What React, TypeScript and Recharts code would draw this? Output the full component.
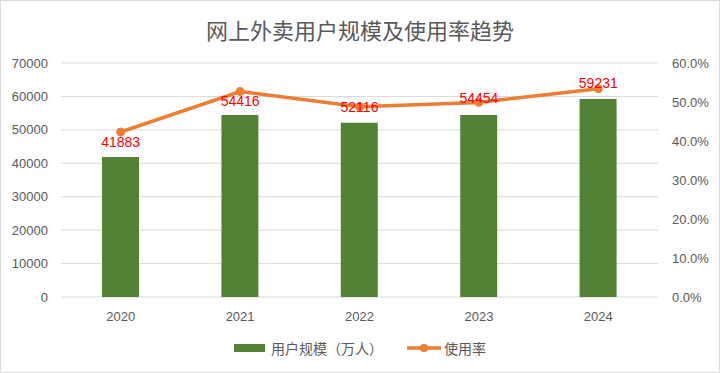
import React from 'react';
import { ComposedChart, Bar, Line, XAxis, YAxis, CartesianGrid } from 'recharts';

const years = ['2020', '2021', '2022', '2023', '2024'];
const users = [41883, 54416, 52116, 54454, 59231];
const usageRate = [0.423, 0.527, 0.488, 0.499, 0.534];
const leftTicks = [0, 10000, 20000, 30000, 40000, 50000, 60000, 70000];
const rightTicks = [0, 0.1, 0.2, 0.3, 0.4, 0.5, 0.6];
const labelOffsets = [9.5, 9, 0, -4, -6];

const data = years.map((y, i) => ({ year: y, users: users[i], rate: usageRate[i] }));

const FONT = '"Liberation Sans", Arial, "Noto Sans CJK SC", sans-serif';
const CJK = '"Noto Sans CJK SC", "Liberation Sans", sans-serif';
const GREY = '#595959';
const GREEN = '#548235';
const ORANGE = '#ED7D31';

const renderLabel = (props: any) => {
  const { x, y, index } = props;
  return (
    <text
      x={x}
      y={y + labelOffsets[index]}
      dy="0.36em"
      textAnchor="middle"
      fill="#FF0000"
      fontSize={14}
      fontFamily={FONT}
    >
      {users[index]}
    </text>
  );
};

export default function App() {
  return (
    <div
      style={{
        position: 'absolute',
        left: 0,
        top: 0,
        width: 720,
        height: 373,
        boxSizing: 'border-box',
        border: '1px solid #D9D9D9',
        background: '#fff',
      }}
    >
      <div
        style={{
          position: 'absolute',
          left: 0,
          top: 13,
          width: 718,
          textAlign: 'center',
          fontFamily: CJK,
          fontSize: 22,
          lineHeight: '30px',
          color: GREY,
        }}
      >
        网上外卖用户规模及使用率趋势
      </div>
      <div style={{ position: 'absolute', left: 0, top: 0 }}>
        <ComposedChart
          width={718}
          height={371}
          data={data}
          margin={{ top: 62, right: 10, bottom: 45, left: 10 }}
        >
          <CartesianGrid yAxisId="left" vertical={false} stroke="#D9D9D9" strokeWidth={1} />
          <XAxis
            dataKey="year"
            axisLine={false}
            tickLine={false}
            tickSize={0}
            tickMargin={15}
            height={30}
            tick={{ fill: GREY, fontSize: 13, fontFamily: FONT }}
          />
          <YAxis
            yAxisId="left"
            orientation="left"
            width={50}
            domain={[0, 70000]}
            ticks={leftTicks}
            interval={0}
            axisLine={false}
            tickLine={false}
            tickSize={0}
            tickMargin={13}
            tick={{ fill: GREY, fontSize: 13, fontFamily: FONT }}
          />
          <YAxis
            yAxisId="right"
            orientation="right"
            width={51}
            domain={[0, 0.6]}
            ticks={rightTicks}
            interval={0}
            axisLine={false}
            tickLine={false}
            tickSize={0}
            tickMargin={14}
            tickFormatter={(v: number) => (v * 100).toFixed(1) + '%'}
            tick={{ fill: GREY, fontSize: 13, fontFamily: FONT, textAnchor: 'start' }}
          />
          <Bar yAxisId="left" dataKey="users" fill={GREEN} barSize={37} isAnimationActive={false} />
          <Line
            yAxisId="right"
            dataKey="rate"
            stroke={ORANGE}
            strokeWidth={3.5}
            dot={{ r: 4, fill: ORANGE, stroke: ORANGE, strokeWidth: 1 }}
            activeDot={false}
            label={renderLabel}
            isAnimationActive={false}
          />
        </ComposedChart>
      </div>
      <div
        style={{
          position: 'absolute',
          left: 0,
          top: 337,
          width: 718,
          display: 'flex',
          justifyContent: 'center',
          alignItems: 'center',
          fontFamily: CJK,
          fontSize: 14,
          color: GREY,
          lineHeight: '20px',
        }}
      >
        <svg width={31} height={8} style={{ marginRight: 6 }}>
          <rect x={0} y={0} width={31} height={8} fill={GREEN} />
        </svg>
        <span>用户规模（万人）</span>
        <svg width={34} height={10} style={{ marginLeft: 24, marginRight: 3 }}>
          <line x1={0} y1={5} x2={34} y2={5} stroke={ORANGE} strokeWidth={3.5} />
          <circle cx={17} cy={5} r={4} fill={ORANGE} />
        </svg>
        <span>使用率</span>
      </div>
    </div>
  );
}
